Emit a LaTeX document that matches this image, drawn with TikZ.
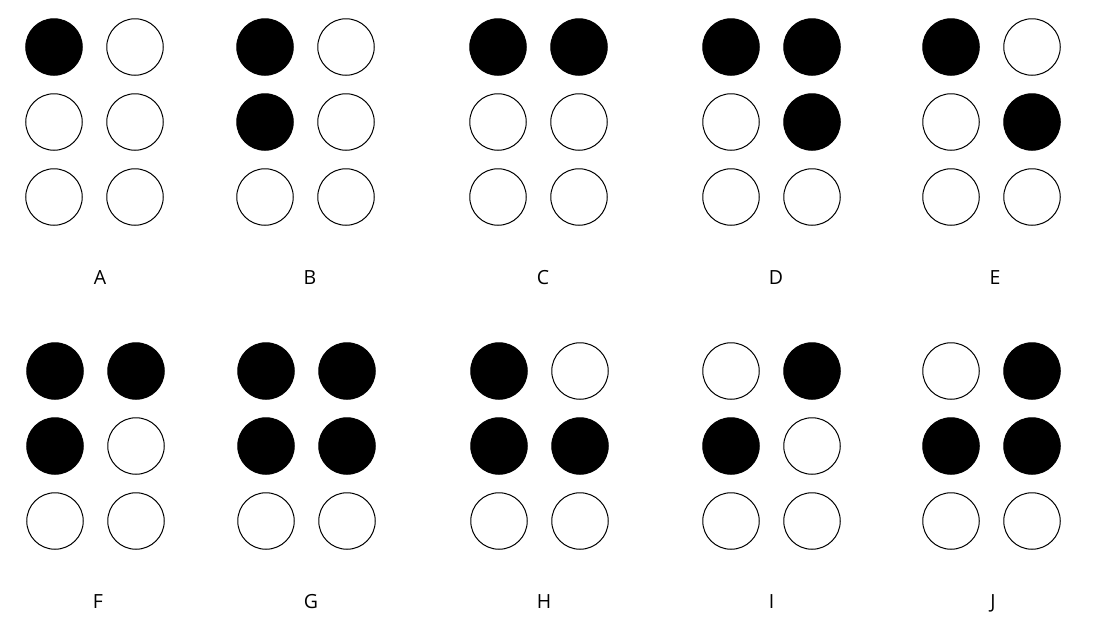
\documentclass[tikz,border=0pt]{standalone}
\usepackage{fontspec}
\setmainfont{Open Sans}
\begin{document}
\begin{tikzpicture}[x=1pt,y=-1pt,
  dot/.style={circle,draw=black,line width=1pt,minimum size=56.5pt,inner sep=0pt},
  lbl/.style={font=\fontsize{19.5}{20}\selectfont,anchor=base,inner sep=0pt}]
\useasboundingbox (0,0) rectangle (1105,640);
\foreach \nm/\xl/\xr/\yt/\da/\db/\dc/\dd/\de/\df in {
  A/54/135/47/black/white/white/white/white/white,
  B/265/346/47/black/black/white/white/white/white,
  C/498/579/47/black/white/white/black/white/white,
  D/731/812/47/black/white/white/black/black/white,
  E/951/1032/47/black/white/white/white/black/white,
  F/55/136/371/black/black/white/black/white/white,
  G/266/347/371/black/black/white/black/black/white,
  H/499/580/371/black/black/white/white/black/white,
  I/731/812/371/white/black/white/black/white/white,
  J/951/1032/371/white/black/white/black/black/white}{
  \node[dot,fill=\da] (\nm1) at (\xl,\yt) {};
  \node[dot,fill=\db] (\nm2) at (\xl,\yt+75) {};
  \node[dot,fill=\dc] (\nm3) at (\xl,\yt+150) {};
  \node[dot,fill=\dd] (\nm4) at (\xr,\yt) {};
  \node[dot,fill=\de] (\nm5) at (\xr,\yt+75) {};
  \node[dot,fill=\df] (\nm6) at (\xr,\yt+150) {};
}
\foreach \nm/\lx/\ly in {A/100/284,B/310/284,C/543/284,D/776/284,E/995/284,
  F/98/608,G/311/608,H/544/608,I/771.5/608,J/993/608}{
  \node[lbl] (lbl\nm) at (\lx,\ly) {\nm};
}
\end{tikzpicture}
\end{document}
